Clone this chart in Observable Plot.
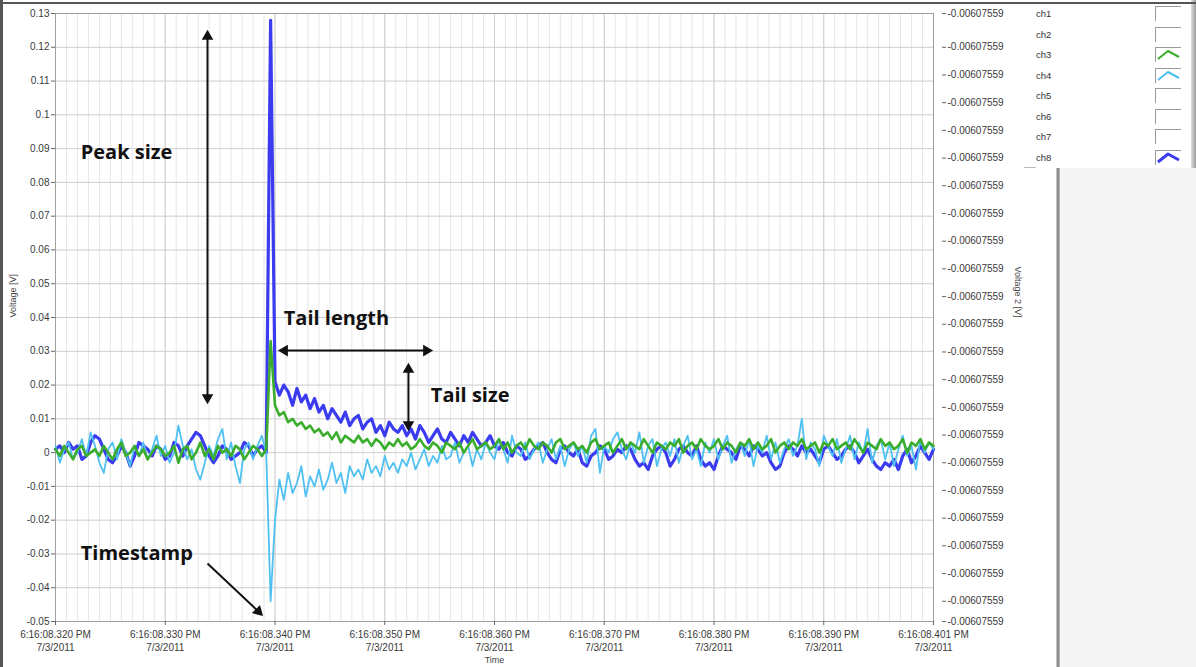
<!DOCTYPE html>
<html>
<head>
<meta charset="utf-8">
<script src="https://cdn.jsdelivr.net/npm/d3@7"></script>
<script src="https://cdn.jsdelivr.net/npm/@observablehq/plot@0.6"></script>
<style>
  html, body { margin: 0; padding: 0; background: #fff; }
  #wrap { position: relative; width: 1196px; height: 667px; overflow: hidden; background: #fff;
          font-family: "Liberation Sans", Arial, sans-serif; }
  #wrap svg.chart { position: absolute; left: 0; top: 0; }
  .abs { position: absolute; }
  .lg-label { position: absolute; font-size: 9.5px; color: #333; line-height: 12px; }
  .lg-box { position: absolute; width: 26px; height: 15px; border-top: 1px solid #9a9a9a; border-left: 1px solid #9a9a9a; box-sizing: border-box; }
</style>
</head>
<body>
<div id="wrap"></div>
<script>
// ---- Waveform timing (ms after 6:16:08 PM, 7/3/2011) ----
const t0 = 320;     // first sample, ms
const dt = 0.4;     // sample interval, ms

// ---- Series values, millivolts ----
// ch8 (blue)
const ch8 = [
  1, 2, 0, 3, 1, 2, -2, -1, 3, 5,
  4, 1, -2, -3, -1, 2, 0, -4, -1, 3,
  2, 1, -1, 2, 1, -2, -1, 3, 2, -1,
  2, 4, 6, 5, 2, -1, -3, -1, 2, 1,
  -2, -1, 0, 3, 2, -1, 1, 2, 0,
  128,
  21, 17, 20, 18, 14, 19, 15, 17, 13, 16,
  12, 14, 10, 13, 11, 9, 12, 8, 10, 11,
  7, 9, 10, 6, 8, 5, 9, 7, 6, 8,
  5, 7, 4, 8, 6, 3, 5, 7, 4, 3,
  6, 4, 2, 5, 3, 6, 4, 2, 3, 5,
  2, 1, 3, 0, -1, 2, 1, -2, -1, 1,
  2, 3, 0, -2, -3, 1, 2, 0, -1, 1,
  -3, -4, -1, 0, 2, 1, -2, -1, 1, 0,
  2, 1, -2, -4, -3, -5, -1, 1, 2, 0,
  -4, -2, 1, 2, 0, -1, 2, -2, -4, -3,
  -5, -1, 2, 1, 0, -2, 2, 1, -1, 2,
  1, -1, 0, -3, -5, -4, 0, 2, 1, -1,
  2, 0, 1, -1, -3, 1, 2, 0, -2, -1,
  1, 2, 0, -3, -1, 1, -2, -4, -5, -3,
  -4, -2, -5, -1, 1, -3, -1, 2, 0, -2, 1
];
// ch4 (light blue)
const ch4 = [
  2, -3, 1, 3, -2, 0, 4, -1, 6, 2,
  -3, -6, 1, 3, -2, 4, 0, -4, 2, -1,
  3, -2, 1, 5, -1, 2, -3, 0, 8, 2,
  -2, 1, -5, -8, -3, 2, -1, 4, 7, -2,
  3, -4, -9, 1, 3, -2, 2, 5, 0,
  -44,
  -20, -8, -14, -6, -12, -9, -4, -13, -7, -10,
  -5, -11, -8, -3, -9, -6, -12, -4, -7, -5,
  -8, -2, -6, -4, -7, -1, -5, -3, -6, -2,
  -4, 0, -5, -2, 1, -4, -1, -3, 2, -2,
  -1, 3, -3, 0, 2, -4, 1, -2, 3, 0,
  -2, 4, 1, -3, 5, 0, -1, 3, -2, 1,
  3, -3, 1, 4, -2, 2, -4, 1, 3, -1,
  2, -3, 5, 7, -6, 2, 0, 4, 6, 1,
  -2, 3, 0, 6, -3, 2, 4, -4, 1, 3,
  -1, 4, -3, 2, 5, -2, 1, -4, 3, 0,
  4, -2, 2, 5, -3, 1, 3, -1, 4, -4,
  2, 0, 5, -2, 3, -3, 1, 4, -1, 2,
  10, -2, 3, 1, -4, 5, 2, -1, 4, -3,
  1, 5, -2, 3, 0, 7, -3, 2, 4, -2,
  3, -4, 1, 5, -1, 2, -5, 4, 0, 3, 1
];
// ch3 (green)
const ch3 = [
  1, -1, 2, 0, -2, 1, 2, -1, 0, 1,
  -1, 2, 0, -2, 1, 3, -1, 0, 2, -1,
  1, -2, 0, 2, 1, -1, 0, 2, -3, 1,
  2, -2, 0, 3, -1, 1, -2, 2, 0, 1,
  -1, 2, 1, -2, 0, 2, 1, -1, 1,
  33,
  14, 11, 12, 9, 10, 8, 9, 7, 8, 6,
  7, 5, 6, 4, 6, 3, 5, 4, 3, 5,
  3, 4, 2, 4, 3, 1, 3, 2, 4, 2,
  3, 1, 2, 4, 2, 1, 3, 2, 0, 3,
  2, 1, 3, 0, 2, 4, 1, 2, 3, 1,
  2, 4, 1, 3, 0, 2, 3, 1, 4, 2,
  1, 3, 2, 0, 3, 4, 1, 2, 3, 1,
  2, 0, 3, 4, 1, 2, 3, 0, 2, 4,
  1, 3, 2, 1, 4, 2, 0, 3, 2, 1,
  3, 2, 4, 0, 2, 3, 1, 4, 2, 1,
  2, 4, 1, 3, 2, 0, 3, 2, 4, 1,
  3, 1, 2, 4, 0, 2, 3, 1, 3, 2,
  4, 1, 2, 3, 0, 3, 2, 4, 1, 2,
  3, 1, 4, 2, 0, 3, 2, 1, 4, 2,
  3, 1, 2, 4, 0, 3, 2, 4, 1, 3, 2
];

// ---- Axes ----
const xDomain = [320, 400];
const xTicks = [320, 330, 340, 350, 360, 370, 380, 390, 400];
const xTickLabels = [
  "6:16:08.320 PM\n7/3/2011", "6:16:08.330 PM\n7/3/2011", "6:16:08.340 PM\n7/3/2011",
  "6:16:08.350 PM\n7/3/2011", "6:16:08.360 PM\n7/3/2011", "6:16:08.370 PM\n7/3/2011",
  "6:16:08.380 PM\n7/3/2011", "6:16:08.390 PM\n7/3/2011", "6:16:08.401 PM\n7/3/2011"
];
const yDomain = [-0.05, 0.13];
const yTicks = [-0.05, -0.04, -0.03, -0.02, -0.01, 0, 0.01, 0.02, 0.03, 0.04, 0.05, 0.06, 0.07, 0.08, 0.09, 0.1, 0.11, 0.12, 0.13];
const yTickLabels = ["-0.05", "-0.04", "-0.03", "-0.02", "-0.01", "0", "0.01", "0.02", "0.03", "0.04", "0.05", "0.06", "0.07", "0.08", "0.09", "0.1", "0.11", "0.12", "0.13"];
const voltage2Ticks = [0.13, 0.12, 0.1118, 0.1036, 0.0954, 0.0872, 0.0790, 0.0708, 0.0626, 0.0544, 0.0462, 0.0380,
  0.0298, 0.0216, 0.0134, 0.0052, -0.0030, -0.0112, -0.0194, -0.0276, -0.0358, -0.0440, -0.05];
const voltage2TickLabel = "-0.00607559";

// ---- Legend ----
const legendNames = ["ch1", "ch2", "ch3", "ch4", "ch5", "ch6", "ch7", "ch8"];
const legendColors = [null, null, "#3aae2c", "#4fc0f2", null, null, null, "#3b3bf0"];

// ---- Annotations (data coordinates: ms, V) ----
const annotationTexts = [
  { label: "Peak size", t: 322.3, v: 0.0889 },
  { label: "Tail length", t: 340.8, v: 0.0397 },
  { label: "Tail size", t: 354.2, v: 0.0169 },
  { label: "Timestamp", t: 322.3, v: -0.0299 }
];
const arrowShafts = [
  { t1: 333.85, v1: 0.1232, t2: 333.85, v2: 0.0163 },
  { t1: 340.87, v1: 0.0302, t2: 353.80, v2: 0.0302 },
  { t1: 352.16, v1: 0.0246, t2: 352.16, v2: 0.0083 },
  { t1: 333.85, v1: -0.0328, t2: 338.48, v2: -0.0470 }
];
const arrowHeads = [
  { t: 333.85, v: 0.1232, angle: 0 },
  { t: 333.85, v: 0.0163, angle: 180 },
  { t: 340.87, v: 0.0302, angle: -90 },
  { t: 353.80, v: 0.0302, angle: 90 },
  { t: 352.16, v: 0.0246, angle: 0 },
  { t: 352.16, v: 0.0083, angle: 180 },
  { t: 338.48, v: -0.0470, angle: 135 }
];

// ---- Build rows ----
const toRows = (arr) => arr.map((mv, i) => ({ t: t0 + i * dt, v: mv / 1000 }));
const rows8 = toRows(ch8), rows4 = toRows(ch4), rows3 = toRows(ch3);
const minorGrid = d3.range(xDomain[0], xDomain[1] + 0.5, 1);

const chart = Plot.plot({
  width: 1196,
  height: 667,
  marginLeft: 55,
  marginRight: 263,
  marginTop: 13,
  marginBottom: 46,
  style: { fontFamily: "Liberation Sans, Arial, sans-serif", fontSize: "10px", color: "#3a3a3a", background: "transparent", overflow: "visible" },
  x: { domain: xDomain },
  y: { domain: yDomain },
  marks: [
    Plot.ruleX(minorGrid, { stroke: "#e6e6e6", strokeWidth: 1 }),
    Plot.ruleX(xTicks, { stroke: "#d0d0d0", strokeWidth: 1 }),
    Plot.ruleY(yTicks, { stroke: "#cdcdcd", strokeWidth: 1 }),
    Plot.frame({ stroke: "#a0a0a0" }),
    Plot.axisX({ ticks: xTicks, tickFormat: (d) => xTickLabels[xTicks.indexOf(d)], tickSize: 4, tickPadding: 3, label: null, lineHeight: 1.3, stroke: "#666" }),
    Plot.axisY({ ticks: yTicks, tickFormat: (d) => yTickLabels[yTicks.indexOf(d)], tickSize: 4, tickPadding: 2, label: null, stroke: "#666" }),
    Plot.axisY({ anchor: "right", ticks: voltage2Ticks, tickFormat: () => voltage2TickLabel, tickSize: 4, tickPadding: 2, dx: 8, label: null, stroke: "#666" }),
    Plot.text(["Voltage [V]"], { frameAnchor: "left", dx: -42, rotate: -90, fontSize: 9, fill: "#444" }),
    Plot.text(["Voltage 2 [V]"], { frameAnchor: "right", dx: 84, rotate: 90, fontSize: 9, fill: "#444" }),
    Plot.text(["Time"], { frameAnchor: "bottom", dy: 41, fontSize: 9, fill: "#444" }),
    Plot.line(rows8, { x: "t", y: "v", stroke: "#3b3bf0", strokeWidth: 3.2 }),
    Plot.line(rows4, { x: "t", y: "v", stroke: "#4fc0f2", strokeWidth: 1.8 }),
    Plot.line(rows3, { x: "t", y: "v", stroke: "#3aae2c", strokeWidth: 2.6 }),
    Plot.link(arrowShafts, { x1: "t1", y1: "v1", x2: "t2", y2: "v2", stroke: "#111", strokeWidth: 2 }),
    Plot.dot(arrowHeads, { x: "t", y: "v", symbol: "triangle", r: 4.3, fill: "#111", stroke: "none", rotate: "angle" }),
    Plot.text(annotationTexts, { x: "t", y: "v", text: "label", textAnchor: "start", fontSize: 20, fontWeight: "bold", fontFamily: "Open Sans, sans-serif", fill: "#111" })
  ]
});
chart.classList.add("chart");

const wrap = document.getElementById("wrap");

// background panels
const addDiv = (css) => { const d = document.createElement("div"); d.className = "abs"; d.style.cssText = css; wrap.appendChild(d); return d; };
addDiv("left:1059px;top:168px;width:137px;height:499px;background:#f4f4f4;");
addDiv("left:1056px;top:168px;width:4px;height:499px;background:linear-gradient(to right,#d8d8d8,#7a7a7a,#c8c8c8);");
addDiv("left:1024px;top:167px;width:12px;height:1px;background:#bbb;");
addDiv("left:1191px;top:0px;width:5px;height:168px;background:linear-gradient(to right,#e0e0e0,#9a9a9a);");
addDiv("left:0px;top:0px;width:3px;height:667px;background:#555;");
addDiv("left:0px;top:2px;width:1196px;height:2px;background:#555;");

wrap.appendChild(chart);

// legend
legendNames.forEach((name, i) => {
  const cy = 14 + 20.5 * i;
  const lab = document.createElement("div");
  lab.className = "lg-label";
  lab.style.left = "1036px";
  lab.style.top = (cy - 6) + "px";
  lab.textContent = name;
  wrap.appendChild(lab);
  const box = document.createElement("div");
  box.className = "lg-box";
  box.style.left = "1155px";
  box.style.top = (cy - 8) + "px";
  wrap.appendChild(box);
  if (legendColors[i]) {
    const ns = "http://www.w3.org/2000/svg";
    const s = document.createElementNS(ns, "svg");
    s.setAttribute("width", "26"); s.setAttribute("height", "15");
    s.style.position = "absolute"; s.style.left = "1155px"; s.style.top = (cy - 8) + "px";
    const p = document.createElementNS(ns, "path");
    p.setAttribute("d", "M3,12 L13,4 L24,10");
    p.setAttribute("fill", "none");
    p.setAttribute("stroke", legendColors[i]);
    p.setAttribute("stroke-width", i === 7 ? "3" : "2");
    p.setAttribute("stroke-linejoin", "round");
    s.appendChild(p);
    wrap.appendChild(s);
  }
});
</script>
</body>
</html>
